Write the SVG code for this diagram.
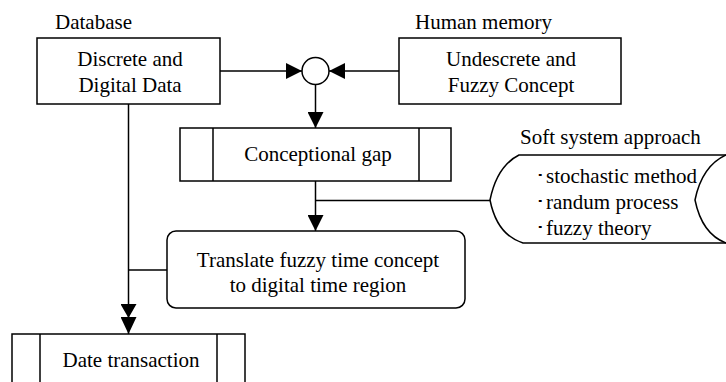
<svg xmlns="http://www.w3.org/2000/svg" width="726" height="382" viewBox="0 0 726 382">
<style>
.s{fill:#fff;stroke:#000;stroke-width:1.5}
.l{fill:none;stroke:#000;stroke-width:1.5}
.t{font-family:"Liberation Serif","Times New Roman",serif;font-size:21px;fill:#000}
.c{text-anchor:middle}
</style>
<defs>
<marker id="ah" viewBox="0 0 16 16" refX="16" refY="8" markerWidth="16" markerHeight="16" markerUnits="userSpaceOnUse" orient="auto">
<path d="M0,0 L16,8 L0,16 Z" fill="#000"/>
</marker>
<marker id="ah2" viewBox="0 0 30 16" refX="30" refY="8" markerWidth="30" markerHeight="16" markerUnits="userSpaceOnUse" orient="auto">
<path d="M0,0 L14,8 L0,16 Z M13,0 L30,8 L13,16 Z" fill="#000"/>
</marker>
</defs>
<rect width="726" height="382" fill="#fff"/>
<g id="connectors">
<line class="l" x1="220" y1="71" x2="302" y2="71" marker-end="url(#ah)"/>
<line class="l" x1="399" y1="71" x2="329" y2="71" marker-end="url(#ah)"/>
<line class="l" x1="315.5" y1="85" x2="315.5" y2="128" marker-end="url(#ah)"/>
<line class="l" x1="315.5" y1="181" x2="315.5" y2="231" marker-end="url(#ah)"/>
<line class="l" x1="315.5" y1="200.5" x2="490" y2="200.5"/>
<line class="l" x1="128.5" y1="104" x2="128.5" y2="334" marker-end="url(#ah2)"/>
<line class="l" x1="128.5" y1="270" x2="167" y2="270"/>
</g>
<g id="database">
<text class="t" x="55" y="29">Database</text>
<rect class="s" x="37" y="38" width="183" height="66"/>
<text class="t c" x="130" y="66">Discrete and</text>
<text class="t c" x="130" y="92">Digital Data</text>
</g>
<g id="human">
<text class="t" x="415" y="29">Human memory</text>
<rect class="s" x="399" y="38" width="222" height="66"/>
<text class="t c" x="511" y="66">Undescrete and</text>
<text class="t c" x="511" y="92">Fuzzy Concept</text>
</g>
<g id="junction">
<circle class="s" cx="315.5" cy="71" r="13.5"/>
</g>
<g id="gap">
<rect class="s" x="180" y="128" width="271" height="53"/>
<line class="l" x1="213" y1="128" x2="213" y2="181"/>
<line class="l" x1="419" y1="128" x2="419" y2="181"/>
<text class="t c" x="318" y="161">Conceptional gap</text>
</g>
<g id="soft">
<text class="t" x="520" y="144">Soft system approach</text>
<path class="s" d="M730,155 L519,155 Q497,166 490,200 Q497,235 523,243 L730,243"/>
<path class="l" d="M726,155 Q702,166 695,200 Q702,234 726,243"/>
<text class="t" x="535" y="183">･stochastic method</text>
<text class="t" x="535" y="209">･randum process</text>
<text class="t" x="535" y="235">･fuzzy theory</text>
</g>
<g id="translate">
<rect class="s" x="167" y="231" width="298" height="77" rx="9" ry="9"/>
<text class="t c" x="318" y="267">Translate fuzzy time concept</text>
<text class="t c" x="318" y="292">to digital time region</text>
</g>
<g id="date">
<rect class="s" x="12" y="334" width="233" height="60"/>
<line class="l" x1="40" y1="334" x2="40" y2="394"/>
<line class="l" x1="217" y1="334" x2="217" y2="394"/>
<text class="t c" x="131" y="367">Date transaction</text>
</g>
</svg>
